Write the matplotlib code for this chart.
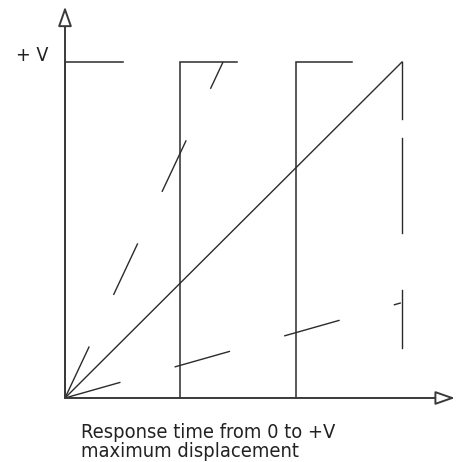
import matplotlib
matplotlib.use('Agg')
import matplotlib.pyplot as plt
from matplotlib import font_manager

# step responses: rise position and how far the flat top is drawn
step_x = [0.0, 1.024, 2.056]
hold_end = [0.516, 1.531, 2.555]

# linear ramp reaching +V at t = 3
ramp_t = [0.0, 3.0]
ramp_v = [0.0, 1.0]

# dashed responses
fast_t = [0.0, 1.407]
fast_v = [0.0, 1.0]
slow_t = [0.0, 2.99]
slow_v = [0.0, 0.283]

# dashed drop after the ramp (pieces in V)
drop_t = 3.0
drop_top = [1.0, 0.774, 0.321]
drop_bot = [0.830, 0.491, 0.149]

col = '#2b2b2b'

# look for a narrow sans, otherwise plain Liberation Sans
fonts = font_manager.fontManager.ttflist
narrow = [f for f in fonts if ('Narrow' in f.name or 'Condensed' in f.name
                               or f.stretch in ('condensed', 'semi-condensed'))
          and 'Mono' not in f.name and 'Serif' not in f.name]
if narrow:
    fam = [narrow[0].name, 'DejaVu Sans']
    stretch = narrow[0].stretch
else:
    fam = ['Liberation Sans', 'DejaVu Sans']
    stretch = 'normal'

fig = plt.figure(figsize=(4.61, 4.62), dpi=100)
ax = fig.add_axes([0, 0, 1, 1])
ax.set_xlim(-0.5787, 3.5253)
ax.set_ylim(-0.1905, 1.1845)
ax.axis('off')

# axes with open arrow heads
aprops = dict(arrowstyle='-|>,head_length=12,head_width=4.2', fc='white',
              ec='#3a3a3a', lw=1.4, shrinkA=0, shrinkB=0, mutation_scale=1)
ax.annotate('', xy=(0, 1.165), xytext=(0, 0), arrowprops=aprops)
ax.annotate('', xy=(3.472, 0), xytext=(0, 0), arrowprops=aprops)

for x0, x1 in zip(step_x, hold_end):
    ax.plot([x0, x0, x1], [0, 1, 1], color=col, lw=1.1, solid_joinstyle='miter')

ax.plot(ramp_t, ramp_v, color=col, lw=1.0)

ax.plot(fast_t, fast_v, color=col, lw=1.0, linestyle=(0, (41, 41)))
ax.plot(slow_t, slow_v, color=col, lw=1.0, linestyle=(0, (41.5, 40.5)))

for a, b in zip(drop_top, drop_bot):
    ax.plot([drop_t, drop_t], [a, b], color=col, lw=1.0)

ax.text(-0.44, 1.003, '+ V', fontsize=14, family=fam, stretch=stretch,
        color='#222222', ha='left', va='baseline')
ax.text(0.142, -0.177, 'Response time from 0 to +V\nmaximum displacement',
        fontsize=14.4, family=fam, stretch=stretch, color='#222222',
        ha='left', va='baseline', linespacing=1.0)

fig.savefig('out.png', dpi=100)
